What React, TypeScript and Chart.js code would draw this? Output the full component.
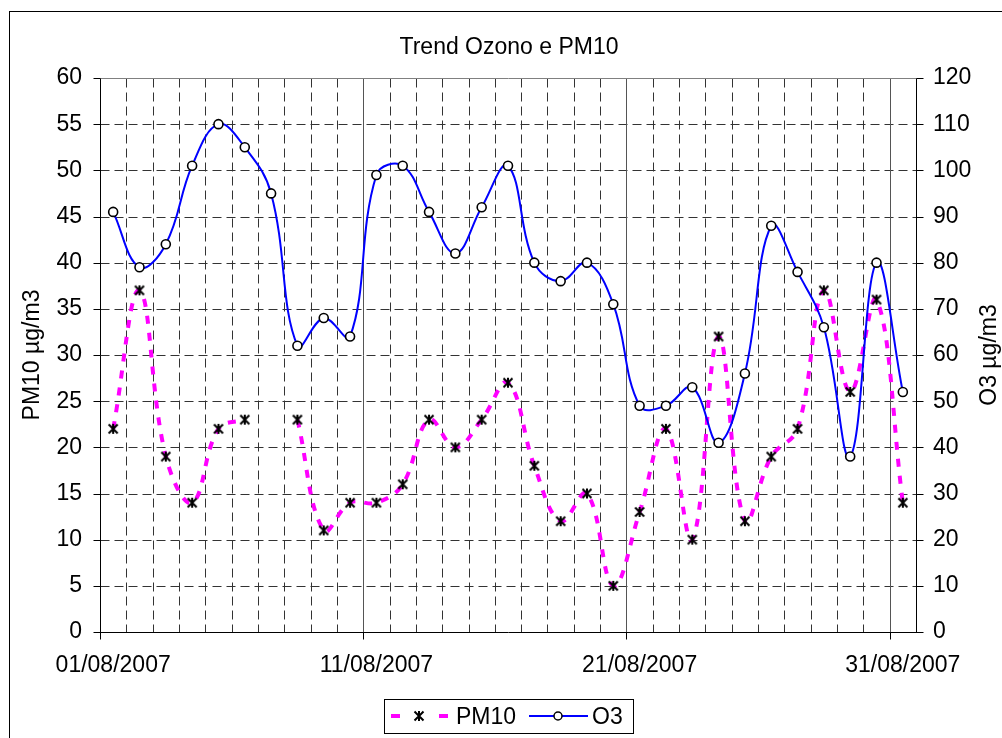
import React, { useEffect, useRef } from 'react';
import { Chart, registerables } from 'chart.js';

Chart.register(...registerables);

const days = [
  '01/08/2007', '02/08/2007', '03/08/2007', '04/08/2007', '05/08/2007', '06/08/2007', '07/08/2007',
  '08/08/2007', '09/08/2007', '10/08/2007', '11/08/2007', '12/08/2007', '13/08/2007', '14/08/2007',
  '15/08/2007', '16/08/2007', '17/08/2007', '18/08/2007', '19/08/2007', '20/08/2007', '21/08/2007',
  '22/08/2007', '23/08/2007', '24/08/2007', '25/08/2007', '26/08/2007', '27/08/2007', '28/08/2007',
  '29/08/2007', '30/08/2007', '31/08/2007',
];
const pm10 = [22, 37, 19, 14, 22, 23, null, 23, 11, 14, 14, 16, 23, 20, 23, 27, 18, 12, 15, 5, 13, 22, 10, 32, 12, 19, 22, 37, 26, 36, 14];
const o3 = [91, 79, 84, 101, 110, 105, 95, 62, 68, 64, 99, 101, 91, 82, 92, 101, 80, 76, 80, 71, 49, 49, 53, 41, 56, 88, 78, 66, 38, 80, 52];
const xTickLabels = ['01/08/2007', '11/08/2007', '21/08/2007', '31/08/2007'];
const titleText = 'Trend Ozono e PM10';
const leftTitle = 'PM10 µg/m3';
const rightTitle = 'O3 µg/m3';
const seriesNames = ['PM10', 'O3'];

const FONT = '"Liberation Sans", Arial, sans-serif';
const FS = 23;
const MAGENTA = '#FF00FF';
const BLUE = '#0000FF';

function makeStar(): HTMLCanvasElement {
  const c = document.createElement('canvas');
  c.width = 12;
  c.height = 12;
  const g = c.getContext('2d')!;
  g.strokeStyle = '#000';
  g.lineWidth = 2;
  g.beginPath();
  g.moveTo(1.5, 1.5); g.lineTo(10.5, 10.5);
  g.moveTo(10.5, 1.5); g.lineTo(1.5, 10.5);
  g.moveTo(6, 1); g.lineTo(6, 11);
  g.stroke();
  return c;
}

export default function App() {
  const ref = useRef<HTMLCanvasElement | null>(null);

  useEffect(() => {
    const canvas = ref.current;
    if (!canvas) return;
    const star = makeStar();

    const line = (ctx: CanvasRenderingContext2D, x1: number, y1: number, x2: number, y2: number) => {
      ctx.beginPath();
      ctx.moveTo(x1, y1);
      ctx.lineTo(x2, y2);
      ctx.stroke();
    };

    const decor = {
      id: 'decor',
      beforeDraw(chart: any) {
        const ctx = chart.ctx as CanvasRenderingContext2D;
        ctx.save();
        ctx.fillStyle = '#fff';
        ctx.fillRect(0, 0, chart.width, chart.height);
        ctx.strokeStyle = '#000';
        ctx.lineWidth = 1;
        ctx.strokeRect(9.5, 11.5, 1100, 1100);
        ctx.restore();
      },
      beforeDatasetsDraw(chart: any) {
        const ctx = chart.ctx as CanvasRenderingContext2D;
        const a = chart.chartArea;
        const xs = chart.scales.x;
        const ys = chart.scales.y;
        const y1s = chart.scales.y1;
        const L = Math.round(a.left) + 0.5;
        const R = Math.round(a.right) + 0.5;
        const T = Math.round(a.top) + 0.5;
        const B = Math.round(a.bottom) + 0.5;
        ctx.save();
        ctx.lineWidth = 1;
        ctx.strokeStyle = '#333';
        ctx.setLineDash([9, 5]);
        ys.ticks.forEach((t: any) => {
          if (t.value <= ys.min || t.value >= ys.max) return;
          const py = Math.round(ys.getPixelForValue(t.value)) + 0.5;
          line(ctx, L, py, R, py);
        });
        const bounds: number[] = [];
        for (let i = 0; i <= days.length; i++) {
          let px;
          if (i === 0) px = a.left;
          else if (i === days.length) px = a.right;
          else px = (xs.getPixelForValue(i - 1) + xs.getPixelForValue(i)) / 2;
          bounds.push(Math.round(px) + 0.5);
        }
        for (let i = 1; i < days.length; i++) {
          if (xTickLabels.includes(days[i])) continue;
          line(ctx, bounds[i], T, bounds[i], B);
        }
        ctx.setLineDash([]);
        ctx.strokeStyle = '#555';
        for (let i = 1; i < days.length; i++) {
          if (!xTickLabels.includes(days[i])) continue;
          line(ctx, bounds[i], T, bounds[i], B);
        }
        ctx.strokeStyle = '#808080';
        line(ctx, L, T, R, T);
        ctx.strokeStyle = '#000';
        line(ctx, L, T, L, B);
        line(ctx, R, T, R, B);
        line(ctx, L - 0.5, B, R + 0.5, B);
        ys.ticks.forEach((t: any) => {
          const py = Math.round(ys.getPixelForValue(t.value)) + 0.5;
          line(ctx, L - 7, py, L, py);
        });
        y1s.ticks.forEach((t: any) => {
          const py = Math.round(y1s.getPixelForValue(t.value)) + 0.5;
          line(ctx, R, py, R + 7, py);
        });
        for (let i = 0; i < days.length; i++) {
          if (!xTickLabels.includes(days[i])) continue;
          line(ctx, bounds[i], B, bounds[i], B + 7);
        }
        ctx.restore();
      },
      afterDraw(chart: any) {
        const ctx = chart.ctx as CanvasRenderingContext2D;
        const a = chart.chartArea;
        const midY = (a.top + a.bottom) / 2;
        ctx.save();
        ctx.fillStyle = '#000';
        ctx.font = `${FS}px ${FONT}`;
        ctx.textBaseline = 'alphabetic';
        ctx.textAlign = 'center';
        ctx.fillText(titleText, 509, 54);
        ctx.save();
        ctx.translate(39, midY);
        ctx.rotate(-Math.PI / 2);
        ctx.fillText(leftTitle, 0, 0);
        ctx.restore();
        ctx.save();
        ctx.translate(996, midY);
        ctx.rotate(-Math.PI / 2);
        ctx.fillText(rightTitle, 0, 0);
        ctx.restore();
        ctx.strokeStyle = '#000';
        ctx.lineWidth = 1;
        ctx.strokeRect(384.5, 699.5, 249, 34);
        const ly = 716;
        ctx.fillStyle = MAGENTA;
        ctx.fillRect(391, ly - 2, 9, 4);
        ctx.fillRect(439, ly - 2, 9, 4);
        ctx.drawImage(star, 419 - 6, ly - 6);
        ctx.fillStyle = '#000';
        ctx.textAlign = 'left';
        ctx.fillText(seriesNames[0], 456, ly + 8);
        ctx.strokeStyle = BLUE;
        ctx.lineWidth = 2;
        line(ctx, 529, ly, 588, ly);
        ctx.beginPath();
        ctx.arc(558, ly, 4, 0, Math.PI * 2);
        ctx.fillStyle = '#fff';
        ctx.fill();
        ctx.strokeStyle = '#000';
        ctx.lineWidth = 1.5;
        ctx.stroke();
        ctx.fillStyle = '#000';
        ctx.fillText(seriesNames[1], 592, ly + 8);
        ctx.restore();
      },
    };

    const chart = new Chart(canvas, {
      type: 'line',
      data: {
        labels: days,
        datasets: [
          {
            label: seriesNames[0],
            data: pm10,
            yAxisID: 'y',
            borderColor: MAGENTA,
            borderWidth: 4,
            borderDash: [8, 9],
            borderCapStyle: 'butt',
            tension: 0.4,
            spanGaps: false,
            pointStyle: star,
            pointRadius: 6,
            pointHoverRadius: 6,
            fill: false,
            order: 1,
          },
          {
            label: seriesNames[1],
            data: o3,
            yAxisID: 'y1',
            borderColor: BLUE,
            borderWidth: 2,
            tension: 0.4,
            pointStyle: 'circle',
            pointRadius: 4.5,
            pointHoverRadius: 4.5,
            pointBackgroundColor: '#fff',
            pointBorderColor: '#000',
            pointBorderWidth: 1.6,
            fill: false,
            order: 0,
          },
        ],
      },
      options: {
        animation: false,
        responsive: false,
        events: [],
        layout: { padding: { top: 78, bottom: 46, left: 0, right: 0 } },
        plugins: {
          legend: { display: false },
          title: { display: false },
          tooltip: { enabled: false },
        },
        scales: {
          x: {
            type: 'category',
            offset: true,
            grid: { display: false, drawTicks: false },
            border: { display: false },
            ticks: {
              autoSkip: false,
              maxRotation: 0,
              minRotation: 0,
              padding: 20,
              color: '#000',
              font: { family: FONT, size: FS },
              callback: (_v: any, i: number) => (xTickLabels.includes(days[i]) ? days[i] : ''),
            },
            afterFit: (s: any) => { s.height = 60; },
          },
          y: {
            type: 'linear',
            position: 'left',
            min: 0,
            max: 60,
            grid: { display: false, drawTicks: false },
            border: { display: false },
            ticks: { stepSize: 5, padding: 18, color: '#000', font: { family: FONT, size: FS } },
            afterFit: (s: any) => { s.width = 100; },
          },
          y1: {
            type: 'linear',
            position: 'right',
            min: 0,
            max: 120,
            grid: { display: false, drawTicks: false },
            border: { display: false },
            ticks: { stepSize: 10, padding: 17, color: '#000', font: { family: FONT, size: FS } },
            afterFit: (s: any) => { s.width = 86; },
          },
        },
      },
      plugins: [decor],
    } as any);

    return () => chart.destroy();
  }, []);

  return (
    <div style={{ position: 'absolute', left: 0, top: 0, width: 1002, height: 738, background: '#fff' }}>
      <canvas ref={ref} width={1002} height={738} style={{ display: 'block', width: 1002, height: 738 }} />
    </div>
  );
}
